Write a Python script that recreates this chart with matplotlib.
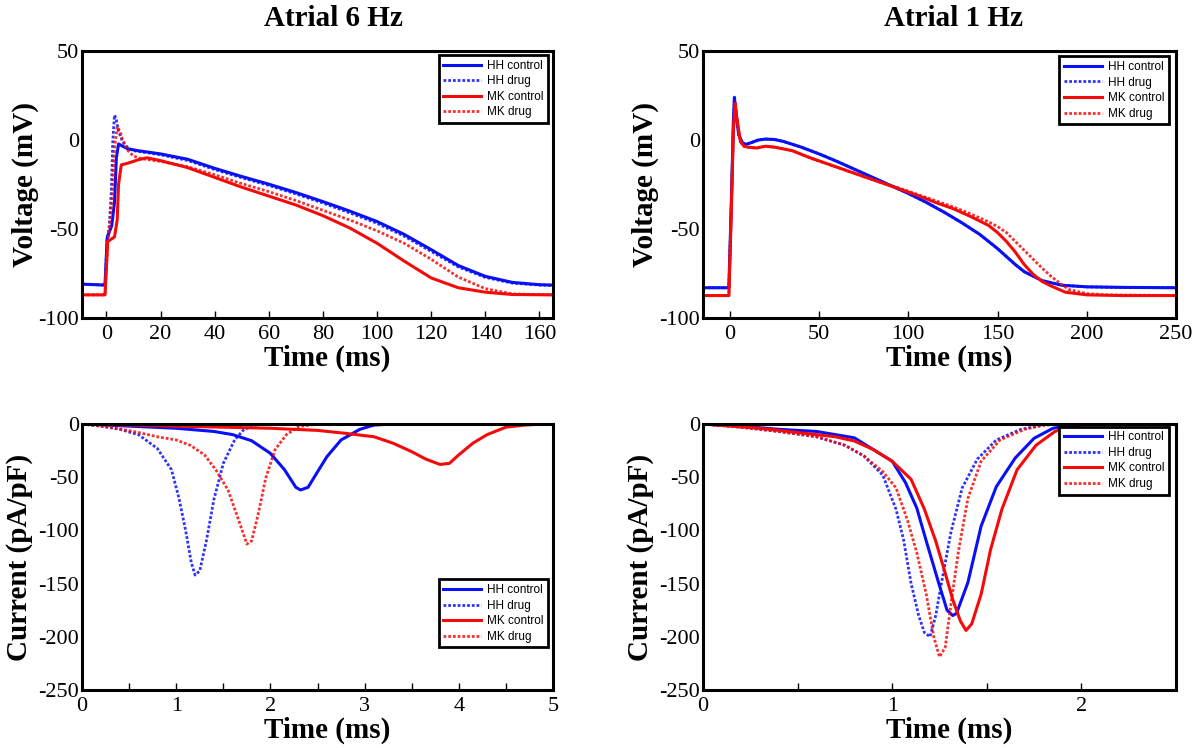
import matplotlib
matplotlib.use("Agg")
import matplotlib.pyplot as plt
from matplotlib.ticker import MultipleLocator

plt.rcParams["axes.unicode_minus"] = False

# ---- Atrial 6 Hz, voltage (mV) vs time (ms) ----
t_hh_ctrl_6 = [-9, -0.5, 0.3, 1, 2, 3, 3.7, 4.5, 6, 8, 11.7, 20, 30, 40, 50, 60, 70, 80,
               90, 100, 110, 120, 130, 140, 150, 160, 165]
v_hh_ctrl_6 = [-81, -81.5, -55, -52, -48, -35, -10, -2.2, -3.5, -5, -6, -7.8, -10.8, -15.9,
               -20.5, -24.8, -29.5, -34.6, -40, -45.8, -53, -61.6, -70.5, -76.6, -80, -81.3, -81.5]
t_hh_drug_6 = [-9, -0.5, 0.3, 1, 1.8, 2.4, 3, 3.6, 4.5, 6, 8, 10, 20, 30, 40, 50, 60, 70, 80,
               90, 100, 110, 120, 130, 140, 150, 160, 165]
v_hh_drug_6 = [-81, -81.5, -55, -50, -30, 0, 14, 12, 5, -1, -4.5, -6, -8.3, -11.5, -16.6,
               -21.2, -25.5, -30.3, -35.4, -41, -46.8, -54, -62.6, -71.3, -77.2, -80.4, -81.5, -81.7]
t_mk_ctrl_6 = [-9, -0.5, 0.5, 3, 4, 4.5, 5.5, 8, 12, 15, 20, 30, 40, 50, 60, 70, 80, 90,
               100, 110, 120, 130, 140, 150, 165]
v_mk_ctrl_6 = [-87, -87, -57, -54.5, -45, -25, -14, -13, -11, -10, -11.6, -15.5, -21, -26.5,
               -31.5, -36.5, -42.5, -49.5, -58, -68, -77.5, -83, -85.5, -86.8, -87]
t_mk_drug_6 = [-9, -0.5, 0.5, 1, 2, 3, 4, 5, 6, 8, 10, 13, 20, 30, 40, 50, 60, 70, 80, 90,
               100, 110, 120, 130, 140, 150, 165]
v_mk_drug_6 = [-87, -87, -57, -52, -35, -5, 7.5, 5, 0, -6, -9, -10.5, -12, -15, -19.5, -24.5,
               -29, -34, -39.5, -45, -51, -58, -67, -77, -83.5, -86.5, -87]

# ---- Atrial 1 Hz, voltage (mV) vs time (ms) ----
t_hh_ctrl_1 = [-15, -0.5, 0.3, 1, 2, 2.6, 3.5, 5, 7, 9, 12, 16, 20, 25, 30, 40, 50, 60, 70,
               80, 90, 100, 110, 120, 130, 140, 150, 160, 165, 175, 186, 200, 220, 250]
v_hh_ctrl_1 = [-83, -83, -55, -30, 10, 24, 15, 3, -1.5, -2.5, -1.5, 0, 0.5, 0.3, -0.8, -4,
               -7.8, -12, -16.5, -21, -25.5, -30, -35, -40.5, -46.5, -53, -61, -70, -74, -79,
               -81.6, -82.5, -82.8, -83]
t_hh_drug_1 = [-15, -0.5, 0.3, 1, 2, 2.6, 3.5, 5, 7, 9, 12, 16, 20, 25, 30, 40, 50, 60, 70,
               80, 90, 100, 110, 120, 130, 140, 150, 160, 165, 175, 186, 200, 220, 250]
v_hh_drug_1 = [-83, -83, -55, -32, 8, 23, 15, 3, -1.5, -2.5, -1.5, 0, 0.5, 0.3, -0.8, -4,
               -7.8, -12, -16.5, -21, -25.5, -30, -35, -40.5, -46.5, -53, -61, -70, -74, -79,
               -81.6, -82.5, -82.8, -83]
t_mk_ctrl_1 = [-15, -0.5, 0.3, 1, 2, 3, 4, 6, 8, 10, 15, 20, 25, 35, 45, 55, 65, 75, 85, 95,
               105, 115, 125, 135, 145, 150, 155, 160, 165, 170, 175, 180, 188, 200, 220, 250]
v_mk_ctrl_1 = [-87.4, -87.4, -60, -35, 5, 20.5, 12, -1, -3.5, -4, -4.5, -3.5, -4, -6, -10,
               -13.5, -17, -20.5, -24, -27.5, -31, -35, -38.5, -43, -48, -52, -57, -63, -70,
               -75.5, -79.5, -82, -85.5, -87, -87.4, -87.4]
t_mk_drug_1 = [-15, -0.5, 0.3, 1, 2, 3, 4, 6, 8, 10, 15, 20, 25, 35, 45, 55, 65, 75, 85, 95,
               105, 115, 125, 135, 145, 150, 155, 160, 165, 170, 175, 180, 185, 190, 200, 210, 250]
v_mk_drug_1 = [-87.4, -87.4, -60, -35, 5, 20, 12, -1, -3.5, -4, -4.5, -3.5, -4, -6, -10,
               -13.5, -17, -20.5, -24, -27, -30.5, -34, -37.5, -41.5, -46, -48.6, -52, -57,
               -62, -67, -72, -76.6, -80.5, -84, -86.3, -87, -87.4]

# ---- Atrial 6 Hz, current (pA/pF) vs time (ms) ----
t_hh_ctrl_6i = [0, 0.5, 1, 1.4, 1.6, 1.8, 2.0, 2.15, 2.27, 2.32, 2.4, 2.5, 2.6, 2.75, 2.95,
                3.1, 3.3, 5]
i_hh_ctrl_6 = [0, -2, -4, -7, -10, -15.7, -27.6, -43, -59.5, -62, -59.5, -45, -30.7, -15, -5,
               -1, 0, 0]
t_hh_drug_6i = [0, 0.2, 0.4, 0.6, 0.8, 0.95, 1.03, 1.1, 1.16, 1.2, 1.25, 1.32, 1.4, 1.5,
                1.62, 1.72, 1.85, 1.95, 5]
i_hh_drug_6 = [0, -2, -5, -10, -23, -43, -70, -100, -130, -142, -138, -110, -71, -37, -15, -5,
               -1, 0, 0]
t_mk_ctrl_6i = [0, 1, 1.5, 2, 2.5, 2.8, 3.1, 3.3, 3.5, 3.65, 3.8, 3.9, 4.0, 4.15, 4.3, 4.5,
                4.7, 4.9, 5]
i_mk_ctrl_6 = [0, -2, -3, -4, -6, -8.8, -12, -18, -26, -33, -38, -37, -29, -18, -10, -3, -1,
               0, 0]
t_mk_drug_6i = [0, 0.3, 0.6, 0.8, 1.0, 1.15, 1.3, 1.42, 1.55, 1.65, 1.75, 1.8, 1.87, 1.95,
                2.05, 2.17, 2.3, 2.5, 5]
i_mk_drug_6 = [0, -3, -8, -12, -15, -20, -29, -43, -62, -87, -112.8, -110, -85, -51, -24, -10,
               -2.5, 0, 0]

# ---- Atrial 1 Hz, current (pA/pF) vs time (ms) ----
t_hh_ctrl_1i = [0, 0.2, 0.4, 0.6, 0.8, 0.9, 1.0, 1.07, 1.13, 1.18, 1.25, 1.29, 1.32, 1.34,
                1.4, 1.47, 1.55, 1.65, 1.75, 1.85, 1.95, 2.05, 2.5]
i_hh_ctrl_1 = [0, -2, -5, -7, -13, -24, -35, -55, -79, -110, -152, -175, -180, -178, -149,
               -96, -59, -32, -13.4, -4, -1, 0, 0]
t_hh_drug_1i = [0, 0.2, 0.4, 0.6, 0.75, 0.85, 0.95, 1.02, 1.06, 1.1, 1.14, 1.17, 1.2, 1.23,
                1.26, 1.31, 1.37, 1.45, 1.55, 1.68, 1.8, 1.9, 2.5]
i_hh_drug_1 = [0, -3, -7, -12, -20, -30, -48, -80, -108.6, -150, -180, -196, -200, -180, -150,
               -102, -60, -33, -15, -5, -1, 0, 0]
t_mk_ctrl_1i = [0, 0.3, 0.5, 0.7, 0.8, 0.9, 1.0, 1.1, 1.17, 1.23, 1.28, 1.32, 1.36, 1.39,
                1.42, 1.47, 1.52, 1.58, 1.66, 1.76, 1.86, 1.95, 2.05, 2.5]
i_mk_ctrl_1 = [0, -4, -8, -12, -16, -24, -35, -52, -80, -110, -140, -165, -185, -194, -188,
               -160, -118, -80, -43, -20, -7, -2, 0, 0]
t_mk_drug_1i = [0, 0.2, 0.4, 0.6, 0.75, 0.85, 0.95, 1.02, 1.08, 1.13, 1.18, 1.22, 1.25, 1.28,
                1.31, 1.35, 1.4, 1.47, 1.57, 1.7, 1.8, 1.9, 2.5]
i_mk_drug_1 = [0, -3, -7, -12, -20, -30, -44.6, -60, -90, -121, -160, -200, -219, -210, -170,
               -120, -70, -35, -15, -5, -1, 0, 0]

labels = ["HH control", "HH drug", "MK control", "MK drug"]

BLUE = "#0a10f5"
RED = "#f50a0a"
SERIF = "Liberation Serif"
SANS = "Liberation Sans"


def draw_panel(ax, series, xlim, ylim, xmajor, xminor, ymajor, ylab, ylab_x,
               legend_loc, legend_anchor):
    styles = [
        dict(color=BLUE, lw=2.2, ls="-"),
        dict(color=BLUE, lw=2.0, ls=(0, (1, 0.7)), alpha=0.85),
        dict(color=RED, lw=2.2, ls="-"),
        dict(color=RED, lw=2.0, ls=(0, (1, 0.7)), alpha=0.85),
    ]
    for (t, v), st, lab in zip(series, styles, labels):
        ax.plot(t, v, label=lab, **st)
    ax.set_xlim(*xlim)
    ax.set_ylim(*ylim)
    ax.xaxis.set_major_locator(MultipleLocator(xmajor))
    if xminor:
        ax.xaxis.set_minor_locator(MultipleLocator(xminor))
    ax.yaxis.set_major_locator(MultipleLocator(ymajor))
    ax.tick_params(axis="x", which="both", direction="in", length=5, width=1,
                   top=False, labelsize=16, pad=5)
    ax.tick_params(axis="y", which="both", length=0, labelsize=16, pad=2)
    for lbl in ax.get_xticklabels() + ax.get_yticklabels():
        lbl.set_fontfamily(SERIF)
    for sp in ax.spines.values():
        sp.set_linewidth(2.2)
    ax.set_xlabel("Time (ms)", fontsize=21, fontweight="bold", family=SERIF)
    ax.xaxis.set_label_coords(0.52, -0.15)
    ax.xaxis.label.set_va("center")
    ax.set_ylabel(ylab, fontsize=21, fontweight="bold", family=SERIF)
    ax.yaxis.set_label_coords(ylab_x, 0.5)
    leg = ax.legend(loc=legend_loc, bbox_to_anchor=legend_anchor, borderaxespad=0,
                    fancybox=False, framealpha=1, edgecolor="black",
                    prop={"family": SANS, "size": 8.5}, handlelength=3.2,
                    labelspacing=0.3, borderpad=0.4, handletextpad=0.5)
    leg.get_frame().set_linewidth(2.0)


fig = plt.figure(figsize=(12.04, 7.48), dpi=100)
W, H = 1204, 748


def add_ax(left, top, right, bottom):
    return fig.add_axes([left / W, 1 - bottom / H, (right - left) / W, (bottom - top) / H])


ax1 = add_ax(82, 51, 553, 318)
ax2 = add_ax(703, 51, 1176, 318)
ax3 = add_ax(82, 424, 553, 690)
ax4 = add_ax(703, 424, 1176, 690)

draw_panel(ax1, [(t_hh_ctrl_6, v_hh_ctrl_6), (t_hh_drug_6, v_hh_drug_6),
                 (t_mk_ctrl_6, v_mk_ctrl_6), (t_mk_drug_6, v_mk_drug_6)],
           (-9, 165), (-100, 50), 20, None, 50, "Voltage (mV)", -0.092,
           "upper right", (0.99, 0.985))
draw_panel(ax2, [(t_hh_ctrl_1, v_hh_ctrl_1), (t_hh_drug_1, v_hh_drug_1),
                 (t_mk_ctrl_1, v_mk_ctrl_1), (t_mk_drug_1, v_mk_drug_1)],
           (-15, 250), (-100, 50), 50, None, 50, "Voltage (mV)", -0.092,
           "upper right", (0.985, 0.98))
draw_panel(ax3, [(t_hh_ctrl_6i, i_hh_ctrl_6), (t_hh_drug_6i, i_hh_drug_6),
                 (t_mk_ctrl_6i, i_mk_ctrl_6), (t_mk_drug_6i, i_mk_drug_6)],
           (0, 5), (-250, 0), 1, 0.5, 50, "Current (pA/pF)", -0.104,
           "lower right", (0.99, 0.16))
draw_panel(ax4, [(t_hh_ctrl_1i, i_hh_ctrl_1), (t_hh_drug_1i, i_hh_drug_1),
                 (t_mk_ctrl_1i, i_mk_ctrl_1), (t_mk_drug_1i, i_mk_drug_1)],
           (0, 2.5), (-250, 0), 1, 0.5, 50, "Current (pA/pF)", -0.104,
           "upper right", (0.985, 0.99))

fig.text(333 / W, 1 - 19 / H, "Atrial 6 Hz", ha="center", va="center",
         fontsize=21, fontweight="bold", family=SERIF)
fig.text(954 / W, 1 - 19 / H, "Atrial 1 Hz", ha="center", va="center",
         fontsize=21, fontweight="bold", family=SERIF)

fig.savefig("out.png", dpi=100)
